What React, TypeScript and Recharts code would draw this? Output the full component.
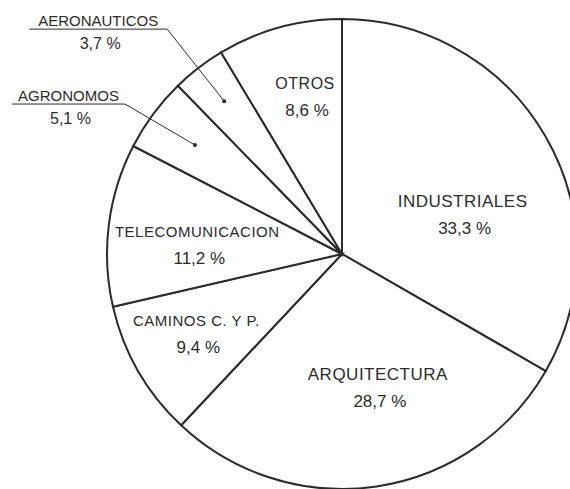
import React from "react";
import { PieChart, Pie, Cell } from "recharts";

// clockwise from 12 o'clock
const categories = [
	"INDUSTRIALES",
	"ARQUITECTURA",
	"CAMINOS C. Y P.",
	"TELECOMUNICACION",
	"AGRONOMOS",
	"AERONAUTICOS",
	"OTROS",
];
const shares = [33.3, 28.7, 9.4, 11.2, 5.1, 3.7, 8.6];

const data = categories.map((name, i) => ({ name, value: shares[i] }));

const INK = "#2b2b2b";
const RAD = Math.PI / 180;

// label placement: angular shift from slice middle (deg, clockwise), radius in px
type Inside = { kind: "in"; shift: number; r: number; size: number };
type Callout = { kind: "out"; r: number; elbowDx: number; elbowDy: number; underline: number };
const labelLayout: (Inside | Callout)[] = [
	{ kind: "in", shift: 11.8, r: 127, size: 17 },
	{ kind: "in", shift: -6.6, r: 138, size: 17 },
	{ kind: "in", shift: 1.2, r: 166, size: 15 },
	{ kind: "in", shift: -3.6, r: 145, size: 15 },
	{ kind: "out", r: 183, elbowDx: -70, elbowDy: -41, underline: 113 },
	{ kind: "out", r: 193, elbowDx: -57, elbowDy: -72, underline: 138 },
	{ kind: "in", shift: 2.3, r: 162, size: 16 },
];

const fmt = (v: number) => `${v.toFixed(1).replace(".", ",")} %`;

function SliceLabel(props: {
	cx?: number;
	cy?: number;
	midAngle?: number;
	index?: number;
	name?: string;
	value?: number;
}) {
	const cx = props.cx ?? 0;
	const cy = props.cy ?? 0;
	const index = props.index ?? 0;
	const layout = labelLayout[index];
	const mid = props.midAngle ?? 0;
	const name = categories[index];
	const value = shares[index];
	if (!layout) return null;

	if (layout.kind === "in") {
		const a = mid - layout.shift;
		const x = cx + layout.r * Math.cos(a * RAD);
		const y = cy - layout.r * Math.sin(a * RAD);
		return (
			<g fill={INK} fontFamily="'Liberation Sans', Arial, sans-serif" fontSize={layout.size}>
				<text x={x} y={y - 13} textAnchor="middle" dominantBaseline="central" letterSpacing={0.5}>
					{name}
				</text>
				<text x={x + 2} y={y + 14} textAnchor="middle" dominantBaseline="central" fontSize={17}>
					{fmt(value)}
				</text>
			</g>
		);
	}

	const dx = cx + layout.r * Math.cos(mid * RAD);
	const dy = cy - layout.r * Math.sin(mid * RAD);
	const ex = dx + layout.elbowDx;
	const ey = dy + layout.elbowDy;
	const sx = ex - layout.underline;
	const tx = (sx + ex) / 2;
	return (
		<g fontFamily="'Liberation Sans', Arial, sans-serif" fontSize={15} fill={INK}>
			<circle cx={dx} cy={dy} r={2} fill={INK} />
			<polyline
				points={`${dx},${dy} ${ex},${ey} ${sx},${ey}`}
				fill="none"
				stroke={INK}
				strokeWidth={1}
			/>
			<text x={tx} y={ey - 9} textAnchor="middle" dominantBaseline="central">
				{name}
			</text>
			<text x={tx + 2} y={ey + 14} textAnchor="middle" dominantBaseline="central" fontSize={16}>
				{fmt(value)}
			</text>
		</g>
	);
}

export default function App() {
	return (
		<div style={{ position: "fixed", left: 0, top: 0, width: 570, height: 489, background: "#fff" }}>
			<PieChart width={570} height={489} margin={{ top: 0, right: 0, bottom: 0, left: 0 }}>
				<Pie
					data={data}
					dataKey="value"
					nameKey="name"
					cx={342}
					cy={254}
					innerRadius={0}
					outerRadius={235}
					startAngle={90}
					endAngle={-270}
					stroke={INK}
					strokeWidth={2}
					label={<SliceLabel />}
					labelLine={false}
					isAnimationActive={false}
				>
					{data.map((d) => (
						<Cell key={d.name} fill="#ffffff" stroke={INK} strokeWidth={2} />
					))}
				</Pie>
			</PieChart>
		</div>
	);
}
